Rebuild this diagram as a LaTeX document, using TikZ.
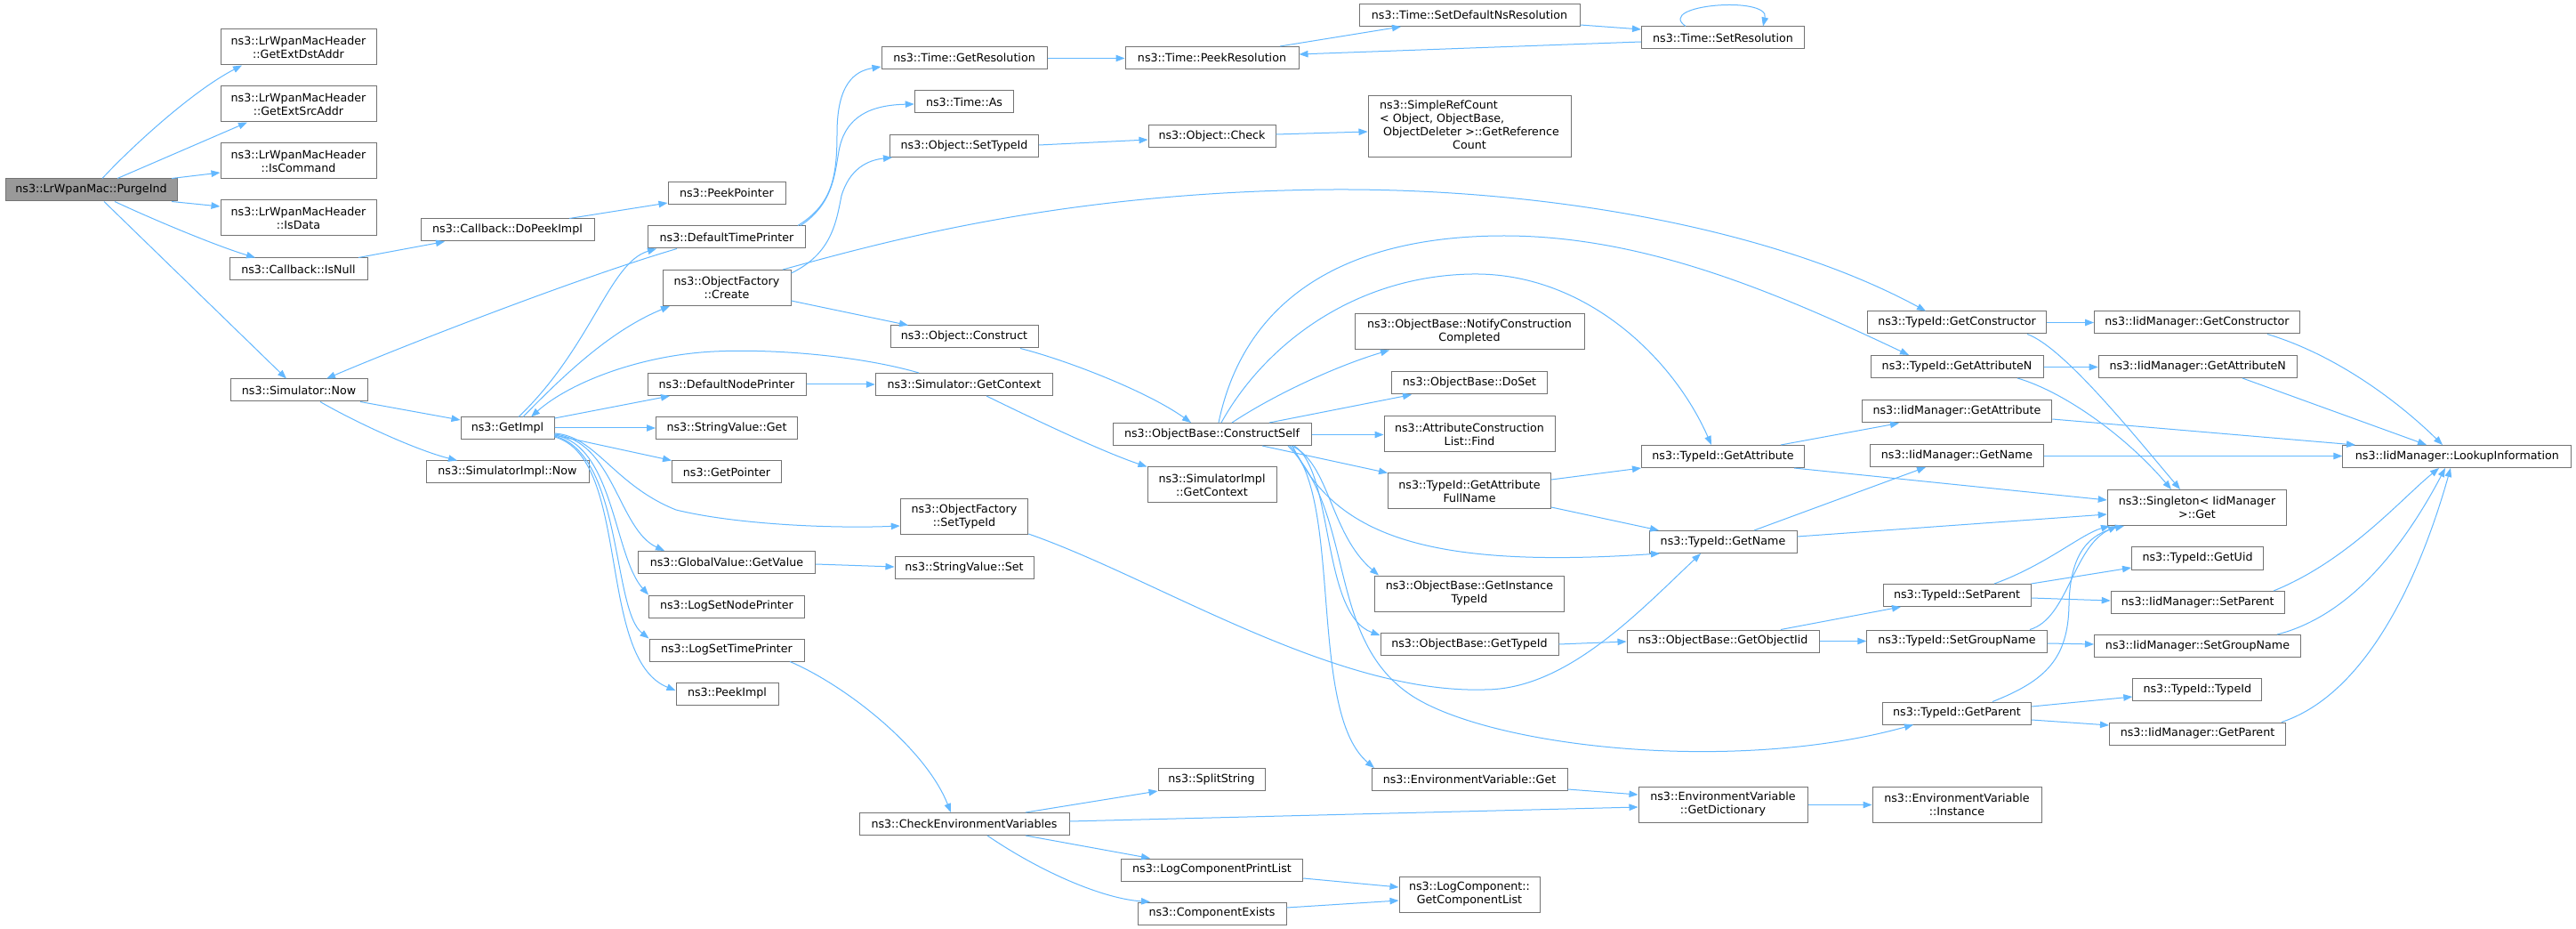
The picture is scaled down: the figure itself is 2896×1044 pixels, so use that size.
\documentclass[tikz,border=0pt]{standalone}
\usepackage{fontspec}
\setmainfont{DejaVu Sans}
\usetikzlibrary{arrows.meta,calc}
\definecolor{edgec}{HTML}{63B8FF}
\definecolor{boxc}{HTML}{737373}
\definecolor{rootc}{HTML}{999999}
\tikzset{
  box/.style={draw=boxc, line width=0.75pt, fill=white, inner sep=0pt, align=center,
    font=\fontsize{9.5}{11.25}\selectfont, text=black},
  rootbox/.style={box, fill=rootc},
  edg/.style={draw=edgec, line width=0.75pt, -{Triangle[length=7.5pt,width=5.6pt]}},
}
\newcommand\nd[7]{%
  \pgfmathsetmacro\ndw{#5*0.75}%
  \pgfmathsetmacro\ndh{#6*0.75}%
  \node[#1, minimum width=\ndw pt, minimum height=\ndh pt] (#2) at (#3,#4) {#7};}
\begin{document}
\begin{tikzpicture}[x=0.75pt,y=-0.75pt]
\path[use as bounding box, fill=white] (0,0) rectangle (2896,1044);
% nodes
\nd{rootbox}{purge}{102.5}{213.5}{193}{25}{ns3::LrWpanMac::PurgeInd}
\nd{box}{dst}{335.5}{53}{175}{40}{ns3::LrWpanMacHeader\\::GetExtDstAddr}
\nd{box}{src}{335.5}{117}{175}{40}{ns3::LrWpanMacHeader\\::GetExtSrcAddr}
\nd{box}{cmd}{335.5}{181}{175}{40}{ns3::LrWpanMacHeader\\::IsCommand}
\nd{box}{data}{335.5}{245}{175}{40}{ns3::LrWpanMacHeader\\::IsData}
\nd{box}{isnull}{335.5}{302.5}{155}{25}{ns3::Callback::IsNull}
\nd{box}{simnow}{336}{438.5}{154}{25}{ns3::Simulator::Now}
\nd{box}{dopeek}{570.5}{258.5}{195}{25}{ns3::Callback::DoPeekImpl}
\nd{box}{getimpl}{570.5}{481.5}{105}{25}{ns3::GetImpl}
\nd{box}{simimplnow}{570.5}{530.5}{183}{25}{ns3::SimulatorImpl::Now}
\nd{box}{peekptr}{817}{217}{132}{25}{ns3::PeekPointer}
\nd{box}{dtp}{817}{266.5}{177}{25}{ns3::DefaultTimePrinter}
\nd{box}{create}{817}{323.5}{144}{40}{ns3::ObjectFactory\\::Create}
\nd{box}{dnp}{817}{432}{178}{25}{ns3::DefaultNodePrinter}
\nd{box}{svget}{817}{481.5}{159}{25}{ns3::StringValue::Get}
\nd{box}{getptr}{817}{530.5}{123}{25}{ns3::GetPointer}
\nd{box}{gvget}{817}{632}{199}{25}{ns3::GlobalValue::GetValue}
\nd{box}{lsnp}{817}{681.5}{175}{25}{ns3::LogSetNodePrinter}
\nd{box}{lstp}{817}{730.5}{174}{25}{ns3::LogSetTimePrinter}
\nd{box}{peekimpl}{817.5}{779.5}{115}{25}{ns3::PeekImpl}
\nd{box}{getres}{1084}{65}{186}{25}{ns3::Time::GetResolution}
\nd{box}{as}{1084}{114.5}{111.5}{25}{ns3::Time::As}
\nd{box}{objsettid}{1084}{164}{167}{25}{ns3::Object::SetTypeId}
\nd{box}{construct}{1084}{378.5}{166}{25}{ns3::Object::Construct}
\nd{box}{simgetctx}{1084}{432}{199.5}{25}{ns3::Simulator::GetContext}
\nd{box}{ofsettid}{1084}{581}{143.5}{40}{ns3::ObjectFactory\\::SetTypeId}
\nd{box}{svset}{1084}{638}{156}{25}{ns3::StringValue::Set}
\nd{box}{checkenv}{1084}{926}{236}{25}{ns3::CheckEnvironmentVariables}
\nd{box}{peekres}{1362.5}{65}{195}{25}{ns3::Time::PeekResolution}
\nd{box}{objcheck}{1362.5}{153}{143}{25}{ns3::Object::Check}
\nd{box}{cself}{1362.5}{488}{223}{25}{ns3::ObjectBase::ConstructSelf}
\nd{box}{simimplctx}{1362.5}{545}{145}{40}{ns3::SimulatorImpl\\::GetContext}
\nd{box}{split}{1362}{876}{120}{25}{ns3::SplitString}
\nd{box}{lcpl}{1362.5}{977.5}{204.5}{25}{ns3::LogComponentPrintList}
\nd{box}{compex}{1362.5}{1026.5}{167}{25}{ns3::ComponentExists}
\nd{box}{setdefns}{1652}{17}{248}{25}{ns3::Time::SetDefaultNsResolution}
\nd{box}{simpleref}{1652}{142.5}{228}{69}{\begin{tabular}{@{}l@{}}ns3::SimpleRefCount\\< Object, ObjectBase,\\\ ObjectDeleter >::GetReference\\\multicolumn{1}{@{}c@{}}{Count}\end{tabular}}
\nd{box}{notify}{1652}{373}{258}{40}{ns3::ObjectBase::NotifyConstruction\\Completed}
\nd{box}{doset}{1652}{430.5}{174.5}{25}{ns3::ObjectBase::DoSet}
\nd{box}{acl}{1652}{488}{192}{40}{ns3::AttributeConstruction\\List::Find}
\nd{box}{gafn}{1652}{552}{183}{40}{ns3::TypeId::GetAttribute\\FullName}
\nd{box}{instid}{1652}{667}{213.5}{40}{ns3::ObjectBase::GetInstance\\TypeId}
\nd{box}{obgettid}{1652}{724}{200}{25}{ns3::ObjectBase::GetTypeId}
\nd{box}{envget}{1652}{876}{220}{25}{ns3::EnvironmentVariable::Get}
\nd{box}{getcomplist}{1652}{1005}{158}{40}{ns3::LogComponent::\\GetComponentList}
\nd{box}{setres}{1937}{42.5}{183}{25}{ns3::Time::SetResolution}
\nd{box}{tgetattr}{1937}{513}{183}{25}{ns3::TypeId::GetAttribute}
\nd{box}{tgetname}{1937}{609}{166}{25}{ns3::TypeId::GetName}
\nd{box}{getobjiid}{1937}{720.5}{216}{25}{ns3::ObjectBase::GetObjectIid}
\nd{box}{getdict}{1937}{904}{190}{40}{ns3::EnvironmentVariable\\::GetDictionary}
\nd{box}{tgetctor}{2200}{362.5}{201.6}{25}{ns3::TypeId::GetConstructor}
\nd{box}{tgetattrn}{2200}{412}{194}{25}{ns3::TypeId::GetAttributeN}
\nd{box}{igetattr}{2200}{462.5}{213.5}{25}{ns3::IidManager::GetAttribute}
\nd{box}{igetname}{2200}{512}{195}{25}{ns3::IidManager::GetName}
\nd{box}{tsetparent}{2200}{669}{166}{25}{ns3::TypeId::SetParent}
\nd{box}{tsetgroup}{2200}{720.5}{202.5}{25}{ns3::TypeId::SetGroupName}
\nd{box}{tgetparent}{2200}{801.5}{167}{25}{ns3::TypeId::GetParent}
\nd{box}{instance}{2200}{904}{190}{40}{ns3::EnvironmentVariable\\::Instance}
\nd{box}{igetctor}{2470}{362.5}{231}{25}{ns3::IidManager::GetConstructor}
\nd{box}{igetattrn}{2470.7}{412}{223}{25}{ns3::IidManager::GetAttributeN}
\nd{box}{singleton}{2470}{570.5}{201.5}{40}{ns3::Singleton< IidManager\\>::Get}
\nd{box}{getuid}{2470.5}{627.5}{148}{25}{ns3::TypeId::GetUid}
\nd{box}{isetparent}{2470.7}{677}{195}{25}{ns3::IidManager::SetParent}
\nd{box}{isetgroup}{2470.5}{726}{232}{25}{ns3::IidManager::SetGroupName}
\nd{box}{typeid}{2470.3}{775}{145}{25}{ns3::TypeId::TypeId}
\nd{box}{igetparent}{2470.5}{824.5}{198}{25}{ns3::IidManager::GetParent}
\nd{box}{lookup}{2762.4}{513}{257}{25}{ns3::IidManager::LookupInformation}
% edges
\draw[edg] (purge.north -| 115,0) .. controls (145,168) and (215,103) .. (dst.south -| 272,0);
\draw[edg] (purge.north -| 132,0) -- (src.south -| 278,0);
\draw[edg] (purge.north -| 193,0) -- (cmd.west |- 0,194);
\draw[edg] (purge.south -| 193,0) -- (data.west |- 0,232);
\draw[edg] (purge.south -| 129,0) .. controls (175,248) and (245,277) .. (isnull.north -| 287,0);
\draw[edg] (purge.south -| 117,0) -- (simnow.north -| 322,0);
\draw[edg] (isnull.north -| 403,0) -- (dopeek.south -| 500,0);
\draw[edg] (dopeek.north -| 640,0) -- (peekptr.west |- 0,228);
\draw[edg] (simnow.south -| 405,0) -- (getimpl.west |- 0,472);
\draw[edg] (simnow.south -| 360,0) .. controls (395,472) and (465,505) .. (simimplnow.north -| 514,0);
\draw[edg] (dtp.south -| 761,0) .. controls (650,312) and (450,390) .. (simnow.north -| 367,0);
\draw[edg] (getimpl.north -| 583,0) .. controls (665,390) and (685,295) .. (dtp.south -| 738,0);
\draw[edg] (getimpl.north -| 588,0) .. controls (640,415) and (690,370) .. (create.south -| 753,0);
\draw[edg] (simgetctx.north -| 1033,0) .. controls (960,398) and (860,392) .. (803,395) .. controls (720,399) and (640,430) .. (getimpl.north -| 597,0);
\draw[edg] (getimpl.east |- 0,470) -- (dnp.south -| 753,0);
\draw[edg] (getimpl.east |- 0,481) -- (svget.west |- 0,481);
\draw[edg] (getimpl.east |- 0,489) -- (getptr.north west);
\draw[edg] (getimpl.east |- 0,487) .. controls (670,490) and (690,545) .. (760,573) .. controls (830,590) and (940,594) .. (ofsettid.west |- 0,591);
\draw[edg] (getimpl.east |- 0,488) .. controls (690,495) and (695,595) .. (gvget.north -| 747,0);
\draw[edg] (getimpl.east |- 0,489) .. controls (690,500) and (690,625) .. (lsnp.north west);
\draw[edg] (getimpl.east |- 0,490) .. controls (700,510) and (688,685) .. (lstp.north west);
\draw[edg] (getimpl.east |- 0,491) .. controls (710,515) and (670,740) .. (peekimpl.west |- 0,776);
\draw[edg] (dnp.east |- 0,432) -- (simgetctx.west |- 0,432);
\draw[edg] (gvget.east |- 0,634) -- (svset.west |- 0,637);
\draw[edg] (simgetctx.south -| 1109,0) .. controls (1160,470) and (1240,508) .. (simimplctx.north west);
\draw[edg] (dtp.north -| 897,0) .. controls (935,230) and (941,200) .. (941,150) .. controls (941,95) and (960,80) .. (getres.west |- 0,75);
\draw[edg] (dtp.north -| 900,0) .. controls (935,230) and (938,200) .. (943,170) .. controls (950,130) and (980,118) .. (as.west |- 0,117);
\draw[edg] (create.east |- 0,307) .. controls (935,285) and (940,250) .. (946,220) .. controls (955,190) and (975,180) .. (objsettid.south -| 1003,0);
\draw[edg] (create.north -| 880,0) .. controls (1000,270) and (1200,215) .. (1500,213) .. controls (1750,212) and (2000,260) .. (tgetctor.north -| 2165,0);
\draw[edg] (create.east |- 0,338) -- (construct.north -| 1021,0);
\draw[edg] (construct.south -| 1147,0) .. controls (1200,405) and (1290,440) .. (cself.north -| 1339,0);
\draw[edg] (ofsettid.east |- 0,600) .. controls (1300,650) and (1500,780) .. (1669,775) .. controls (1760,775) and (1840,690) .. (tgetname.south -| 1912,0);
\draw[edg] (getres.east |- 0,65.5) -- (peekres.west |- 0,65.5);
\draw[edg] (peekres.north -| 1439,0) -- (setdefns.south -| 1575,0);
\draw[edg] (setdefns.east |- 0,28) -- (setres.west |- 0,33);
\draw[edg] (setres.west |- 0,47) -- (peekres.east |- 0,61);
\draw[edg] (setres.north -| 1895,0) .. controls (1860,5) and (1990,-5) .. (setres.north -| 1982,0);
\draw[edg] (objsettid.east |- 0,163) -- (objcheck.west |- 0,157);
\draw[edg] (objcheck.east |- 0,151) -- (simpleref.west |- 0,148);
\draw[edg] (cself.north -| 1385,0) .. controls (1430,445) and (1500,412) .. (notify.south -| 1562,0);
\draw[edg] (cself.north -| 1427,0) -- (doset.south -| 1587,0);
\draw[edg] (cself.east |- 0,488.5) -- (acl.west |- 0,488.5);
\draw[edg] (cself.south -| 1419,0) -- (gafn.north west);
\draw[edg] (cself.south -| 1452,0) .. controls (1495,520) and (1495,600) .. (instid.north -| 1550,0);
\draw[edg] (cself.south -| 1455,0) .. controls (1500,530) and (1485,690) .. (obgettid.west |- 0,714);
\draw[edg] (cself.south -| 1450,0) .. controls (1510,560) and (1470,800) .. (envget.north -| 1545,0);
\draw[edg] (cself.south -| 1448,0) .. controls (1525,580) and (1490,720) .. (1589,783) .. controls (1680,840) and (1950,870) .. (tgetparent.south -| 2151,0);
\draw[edg] (cself.south -| 1453,0) .. controls (1500,600) and (1600,640) .. (tgetname.south -| 1866,0);
\draw[edg] (obgettid.east |- 0,724) -- (getobjiid.west |- 0,721);
\draw[edg] (getobjiid.north -| 2002,0) -- (tsetparent.south -| 2137,0);
\draw[edg] (getobjiid.east |- 0,720.5) -- (tsetgroup.west |- 0,720.5);
\draw[edg] (gafn.east |- 0,539) -- (tgetattr.south west);
\draw[edg] (gafn.east |- 0,570) -- (tgetname.north -| 1865,0);
\draw[edg] (cself.north -| 1373,0) .. controls (1420,390) and (1520,310) .. (1655,308) .. controls (1780,306) and (1880,400) .. (tgetattr.north -| 1924,0);
\draw[edg] (cself.north -| 1370,0) .. controls (1400,330) and (1520,265) .. (1691,265) .. controls (1850,265) and (2000,330) .. (tgetattrn.north -| 2146,0);
\draw[edg] (tgetattr.north -| 2002,0) -- (igetattr.south -| 2135,0);
\draw[edg] (tgetattr.south -| 2017,0) -- (singleton.west |- 0,562);
\draw[edg] (tgetname.north -| 1972,0) -- (igetname.south -| 2165,0);
\draw[edg] (tgetname.east |- 0,603) -- (singleton.west |- 0,578);
\draw[edg] (tgetctor.east |- 0,362.5) -- (igetctor.west |- 0,362.5);
\draw[edg] (tgetctor.south -| 2279,0) .. controls (2320,390) and (2400,490) .. (singleton.north -| 2451,0);
\draw[edg] (tgetattrn.south -| 2268,0) .. controls (2320,440) and (2390,490) .. (singleton.north -| 2441,0);
\draw[edg] (tgetattrn.east |- 0,412.5) -- (igetattrn.west |- 0,412.5);
\draw[edg] (igetctor.south -| 2549,0) .. controls (2630,400) and (2700,455) .. (lookup.north -| 2746,0);
\draw[edg] (igetattrn.south -| 2521,0) -- (lookup.north -| 2728,0);
\draw[edg] (igetattr.east |- 0,471) -- (lookup.north -| 2648,0);
\draw[edg] (igetname.east |- 0,512.5) -- (lookup.west |- 0,512.5);
\draw[edg] (tsetparent.north -| 2242,0) .. controls (2300,635) and (2340,600) .. (singleton.south -| 2372,0);
\draw[edg] (tsetparent.north east) -- (getuid.west |- 0,638);
\draw[edg] (tsetparent.east |- 0,672) -- (isetparent.west |- 0,675);
\draw[edg] (tsetgroup.north -| 2282,0) .. controls (2325,695) and (2330,615) .. (singleton.south -| 2380,0);
\draw[edg] (tsetgroup.east |- 0,723) -- (isetgroup.west |- 0,724);
\draw[edg] (tgetparent.north -| 2240,0) .. controls (2300,765) and (2325,740) .. (2326,680) .. controls (2327,620) and (2350,600) .. (singleton.south -| 2388,0);
\draw[edg] (tgetparent.east |- 0,794) -- (typeid.west |- 0,783);
\draw[edg] (tgetparent.east |- 0,809) -- (igetparent.west |- 0,815);
\draw[edg] (isetparent.north -| 2556,0) .. controls (2640,630) and (2700,560) .. (lookup.south -| 2742,0);
\draw[edg] (isetgroup.north -| 2560,0) .. controls (2650,690) and (2710,600) .. (lookup.south -| 2749,0);
\draw[edg] (igetparent.north -| 2565,0) .. controls (2660,780) and (2720,650) .. (lookup.south -| 2755,0);
\draw[edg] (lstp.south -| 888,0) .. controls (950,770) and (1040,840) .. (checkenv.north -| 1069,0);
\draw[edg] (checkenv.north -| 1153,0) -- (split.south west);
\draw[edg] (checkenv.east |- 0,923) -- (getdict.west |- 0,907);
\draw[edg] (checkenv.south -| 1153,0) -- (lcpl.north -| 1293,0);
\draw[edg] (checkenv.south -| 1110,0) .. controls (1170,980) and (1240,1010) .. (compex.north -| 1293,0);
\draw[edg] (lcpl.east |- 0,987) -- (getcomplist.west |- 0,997);
\draw[edg] (compex.east |- 0,1020) -- (getcomplist.west |- 0,1012);
\draw[edg] (envget.east |- 0,887) -- (getdict.west |- 0,893);
\draw[edg] (getdict.east |- 0,904.5) -- (instance.west |- 0,904.5);
\end{tikzpicture}
\end{document}
